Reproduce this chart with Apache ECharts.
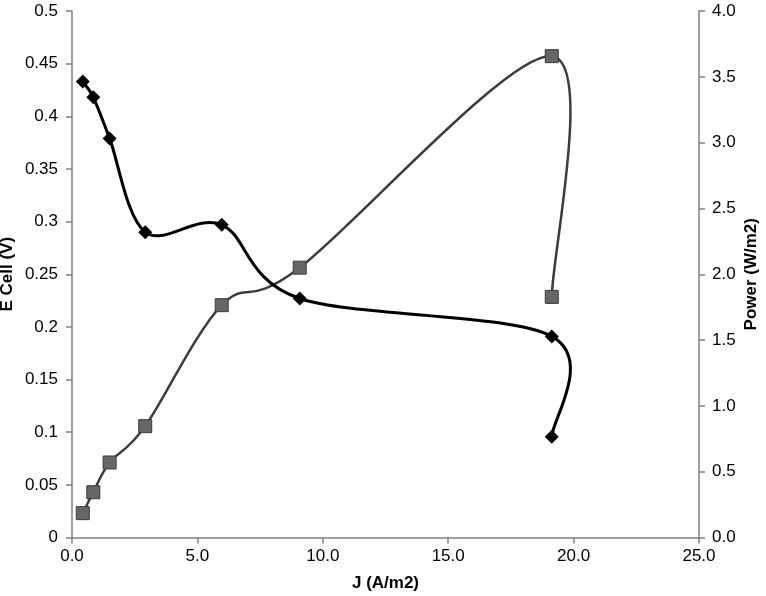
<!DOCTYPE html>
<html>
<head>
<meta charset="utf-8">
<script src="https://cdn.jsdelivr.net/npm/echarts@6/dist/echarts.min.js"></script>
<style>
  html, body { margin: 0; padding: 0; background: #fff; }
  #chart { width: 766px; height: 596px; }
</style>
</head>
<body>
<div id="chart"></div>
<script>
'use strict';

// current density J (A/m2)
var jValues = [0.43, 0.85, 1.5, 2.92, 5.97, 9.08, 19.13, 19.13];
// cell voltage (V), left axis
var eCell = [0.433, 0.418, 0.379, 0.290, 0.297, 0.227, 0.191, 0.0956];
// power density (W/m2), right axis
var power = [0.185, 0.344, 0.57, 0.846, 1.765, 2.05, 3.657, 1.828];

function pairs(xs, ys) {
    var out = [];
    for (var i = 0; i < xs.length; i++) {
        out.push([xs[i], ys[i]]);
    }
    return out;
}

// spreadsheet-style smoothed line: one cubic bezier per segment,
// control points from the neighbours (no clamping, so it may bulge)
function smoothCurve(xs, ys, color, width) {
    return function (params, api) {
        if (params.dataIndex !== 0) {
            return null;
        }
        var p = [];
        for (var i = 0; i < xs.length; i++) {
            p.push(api.coord([xs[i], ys[i]]));
        }
        var n = p.length;
        var children = [];
        for (var k = 0; k < n - 1; k++) {
            var a = p[Math.max(k - 1, 0)];
            var b = p[k];
            var c = p[k + 1];
            var d = p[Math.min(k + 2, n - 1)];
            children.push({
                type: 'bezierCurve',
                shape: {
                    x1: b[0], y1: b[1],
                    cpx1: b[0] + (c[0] - a[0]) / 6,
                    cpy1: b[1] + (c[1] - a[1]) / 6,
                    cpx2: c[0] - (d[0] - b[0]) / 6,
                    cpy2: c[1] - (d[1] - b[1]) / 6,
                    x2: c[0], y2: c[1]
                },
                style: { stroke: color, lineWidth: width, fill: null, lineCap: 'round', lineJoin: 'round' }
            });
        }
        return { type: 'group', children: children };
    };
}

var font = 'Liberation Sans, Arial, sans-serif';
var axisLine = { show: true, lineStyle: { color: '#808080', width: 1.5 } };
var axisTick = { show: true, length: 6, lineStyle: { color: '#808080', width: 1.5 } };
var labelStyle = { color: '#000', fontSize: 17, fontFamily: font };
var nameStyle = { color: '#000', fontSize: 17, fontWeight: 'bold', fontFamily: font };

var options = {
    animation: false,
    backgroundColor: '#fff',
    grid: { left: 72, right: 67, top: 11, bottom: 58.5, outerBoundsMode: 'none' },
    xAxis: {
        type: 'value',
        min: 0, max: 25, interval: 5,
        name: 'J (A/m2)',
        nameLocation: 'middle',
        nameGap: 37,
        nameMoveOverlap: false,
        nameTextStyle: nameStyle,
        axisLine: axisLine,
        axisTick: axisTick,
        splitLine: { show: false },
        axisLabel: Object.assign({ margin: 10, formatter: function (v) { return v.toFixed(1); } }, labelStyle)
    },
    yAxis: [
        {
            type: 'value',
            min: 0, max: 0.5, interval: 0.05,
            name: 'E Cell (V)',
            nameLocation: 'middle',
            nameRotate: 90,
            nameGap: 56,
            nameMoveOverlap: false,
            nameTextStyle: nameStyle,
            axisLine: axisLine,
            axisTick: axisTick,
            splitLine: { show: false },
            axisLabel: Object.assign({ margin: 14 }, labelStyle)
        },
        {
            type: 'value',
            position: 'right',
            min: 0, max: 4, interval: 0.5,
            alignTicks: false,
            name: 'Power (W/m2)',
            nameLocation: 'middle',
            nameRotate: 90,
            nameGap: 44,
            nameMoveOverlap: false,
            nameTextStyle: nameStyle,
            axisLine: axisLine,
            axisTick: axisTick,
            splitLine: { show: false },
            axisLabel: Object.assign({ margin: 13, formatter: function (v) { return v.toFixed(1); } }, labelStyle)
        }
    ],
    series: [
        {
            name: 'Power line',
            type: 'custom',
            yAxisIndex: 1,
            data: pairs(jValues, power),
            renderItem: smoothCurve(jValues, power, '#3c3c3c', 2.5),
            silent: true,
            z: 2
        },
        {
            name: 'E Cell line',
            type: 'custom',
            yAxisIndex: 0,
            data: pairs(jValues, eCell),
            renderItem: smoothCurve(jValues, eCell, '#000', 3),
            silent: true,
            z: 3
        },
        {
            name: 'Power',
            type: 'scatter',
            yAxisIndex: 1,
            data: pairs(jValues, power),
            symbol: 'rect',
            symbolSize: 13,
            itemStyle: { color: '#666', borderColor: '#3a3a3a', borderWidth: 1, opacity: 1 },
            z: 4
        },
        {
            name: 'E Cell',
            type: 'scatter',
            yAxisIndex: 0,
            data: pairs(jValues, eCell),
            symbol: 'diamond',
            symbolSize: 14,
            itemStyle: { color: '#000', opacity: 1 },
            z: 5
        }
    ]
};

var myChart = echarts.init(document.getElementById('chart'));
myChart.setOption(options);
</script>
</body>
</html>
